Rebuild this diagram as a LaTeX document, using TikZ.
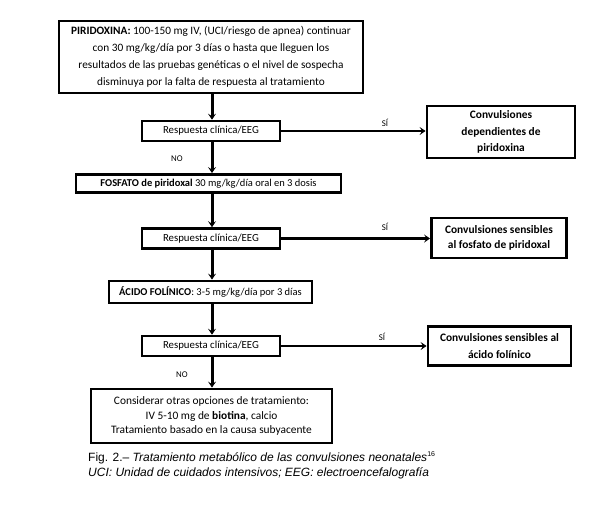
\documentclass[tikz,border=0pt]{standalone}
\usepackage{fontspec}
\setmainfont{Carlito}
\newfontfamily\capfont{Liberation Sans}
\usetikzlibrary{arrows.meta,calc}
\begin{document}
\begin{tikzpicture}[x=1pt,y=-1pt,
  box/.style={draw, line width=2.8pt, inner sep=0pt, align=center, font=\fontsize{10.5}{17}\selectfont},
  rbox/.style={box, font=\fontsize{11.4}{16.5}\selectfont\bfseries},
  resp/.style={draw, line width=2.6pt, inner sep=0pt, minimum width=138, minimum height=20, font=\fontsize{10.8}{13}\selectfont},
  arr/.style={line width=3pt, -{Stealth[length=6pt,width=8pt,inset=2.5pt]}},
  harr/.style={line width=2.6pt, -{Stealth[length=6pt,width=8pt,inset=2.5pt]}},
  lab/.style={font=\fontsize{8.8}{10}\selectfont, inner sep=0pt},
  captxt/.style={font=\capfont\fontsize{12}{14}\selectfont, anchor=base west, inner sep=0pt}]
\useasboundingbox[fill=white] (0,0) rectangle (613,514);

\node[box, minimum width=304, minimum height=72, font=\fontsize{11.3}{17}\selectfont] (b1) at (211,57)
  {\textbf{PIRIDOXINA:} 100-150 mg IV, (UCI/riesgo de apnea) continuar\\
   con 30 mg/kg/día por 3 días o hasta que lleguen los\\
   resultados de las pruebas genéticas o el nivel de sospecha\\
   disminuya por la falta de respuesta al tratamiento};

\node[resp] (r1) at (211,131) {Respuesta clínica/EEG};
\node[box, minimum width=265, minimum height=18] (fos) at (208.5,183.5)
  {\textbf{FOSFATO de piridoxal} 30 mg/kg/día oral en 3 dosis};
\node[resp] (r2) at (211,238.5) {Respuesta clínica/EEG};
\node[box, minimum width=203, minimum height=22] (acf) at (210.5,292)
  {\textbf{ÁCIDO FOLÍNICO}: 3-5 mg/kg/día por 3 días};
\node[resp] (r3) at (211,346) {Respuesta clínica/EEG};
\node[box, minimum width=241, minimum height=54, font=\fontsize{11.4}{14.5}\selectfont] (fin) at (211.5,416)
  {Considerar otras opciones de tratamiento:\\
   IV 5-10 mg de \textbf{biotina}, calcio\\
   Tratamiento basado en la causa subyacente};

\node[rbox, minimum width=148, minimum height=52] (c1) at (501,132)
  {Convulsiones\\dependientes de\\piridoxina};
\node[rbox, minimum width=135, minimum height=40, font=\fontsize{11.4}{15}\selectfont\bfseries] (c2) at (499,238)
  {Convulsiones sensibles\\al fosfato de piridoxal};
\node[rbox, minimum width=143, minimum height=39] (c3) at (499.5,346)
  {Convulsiones sensibles al\\ácido folínico};

\coordinate (ax) at (212,0);
\draw[arr] (b1.south -| ax) -- (r1.north -| ax);
\draw[arr] (r1.south -| ax) -- (fos.north -| ax);
\draw[arr] (fos.south -| ax) -- (r2.north -| ax);
\draw[arr] (r2.south -| ax) -- (acf.north -| ax);
\draw[arr] (acf.south -| ax) -- (r3.north -| ax);
\draw[arr] (r3.south -| ax) -- (fin.north -| ax);

\draw[harr] (r1.east) -- (r1.east -| c1.west);
\draw[harr] (r2.east) -- (r2.east -| c2.west);
\draw[harr] (r3.east) -- (r3.east -| c3.west);

\node[lab] (no1) at (177,159) {NO};
\node[lab] (no2) at (182,375) {NO};
\node[lab] (si1) at (385,123) {SÍ};
\node[lab] (si2) at (385,227) {SÍ};
\node[lab] (si3) at (382,337) {SÍ};

\node[captxt] (cap1) at (88,461) {Fig. 2.– \textit{Tratamiento metabólico de las convulsiones neonatales}\textsuperscript{\fontsize{7}{8}\selectfont 16}};
\node[captxt] (cap2) at (88,476) {\textit{UCI: Unidad de cuidados intensivos; EEG: electroencefalografía}};
\end{tikzpicture}
\end{document}
